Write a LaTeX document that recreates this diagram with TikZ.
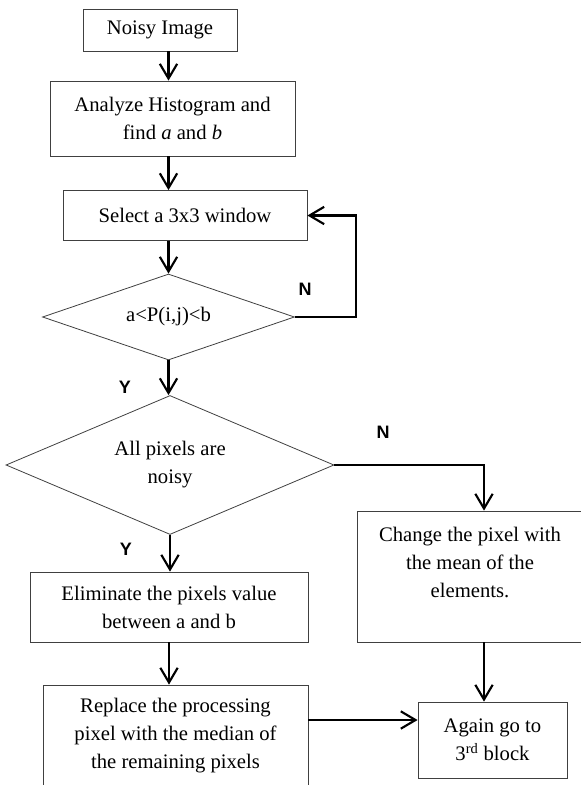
\documentclass[tikz,border=0pt]{standalone}
\usepackage{fontspec}
\setmainfont{Liberation Serif}
\setsansfont{Liberation Sans}
\usetikzlibrary{arrows.meta,shapes.geometric}

\begin{document}
\begin{tikzpicture}[x=0.75pt,y=-0.75pt,
  >={Straight Barb[length=11pt,width=13pt]},
  block/.style={draw=black!75,line width=0.6pt,align=center,inner sep=0pt,
    font=\fontsize{15.5}{21}\selectfont},
  decision/.style={block,diamond},
  flow/.style={->,line width=1.6pt},
  yesno/.style={font=\sffamily\bfseries\fontsize{13.5}{15}\selectfont}]
\useasboundingbox (0,0) rectangle (581,785);

\node[block,minimum width=115.5pt,minimum height=31.5pt] (noisy) at (160,30) {Noisy Image};
\node[block,minimum width=183.75pt,minimum height=56.25pt] (analyze) at (172.5,118.5) {Analyze Histogram and\\find \textit{a} and \textit{b}};
\node[block,minimum width=183pt,minimum height=37.5pt] (select) at (185,215.5) {Select a 3x3 window};
\node[decision,aspect=2.93,minimum width=189pt,minimum height=64.5pt] (cond) at (168.5,317) {a<P(i,j)<b};
\node[decision,aspect=2.36,minimum width=246pt,minimum height=104.25pt] (allnoisy) at (170,465) {All pixels are\\noisy};
\node[block,minimum width=208.5pt,minimum height=52.5pt] (elim) at (169,607) {Eliminate the pixels value\\between a and b};
\node[block,minimum width=198.75pt,minimum height=76.5pt] (replace) at (175.5,736) {Replace the processing\\pixel with the median of\\the remaining pixels};
\node[block,minimum width=169.5pt,minimum height=98.25pt] (change) at (470,576.5) {Change the pixel with\\the mean of the\\elements.\\~};
\node[block,minimum width=111.75pt,minimum height=57pt] (again) at (492.5,740) {Again go to\\3\textsuperscript{rd} block};

\node[yesno] (n1) at (305,289) {N};
\node[yesno] (y1) at (125,387) {Y};
\node[yesno] (n2) at (383,432) {N};
\node[yesno] (y2) at (126,549) {Y};

\coordinate (loopR) at (356,317);
\coordinate (splitR) at (484,465);

\draw[flow] (noisy.south -| cond) -- (analyze.north -| cond);
\draw[flow] (analyze.south -| cond) -- (select.north -| cond);
\draw[flow] (select.south -| cond) -- (cond.north);
\draw[flow] (cond.east) -- (loopR) |- (select.east);
\draw[flow] (cond.south) -- (cond.south |- allnoisy.north);
\draw[flow] (allnoisy.east) -- (splitR) -- (splitR |- change.north);
\draw[flow] (allnoisy.south) -- (allnoisy.south |- elim.north);
\draw[flow] (elim.south) -- (elim.south |- replace.north);
\draw[flow] (splitR |- change.south) -- (splitR |- again.north);
\draw[flow] ([yshift=12pt]replace.east) -- ([yshift=15pt]again.west);
\end{tikzpicture}
\end{document}
